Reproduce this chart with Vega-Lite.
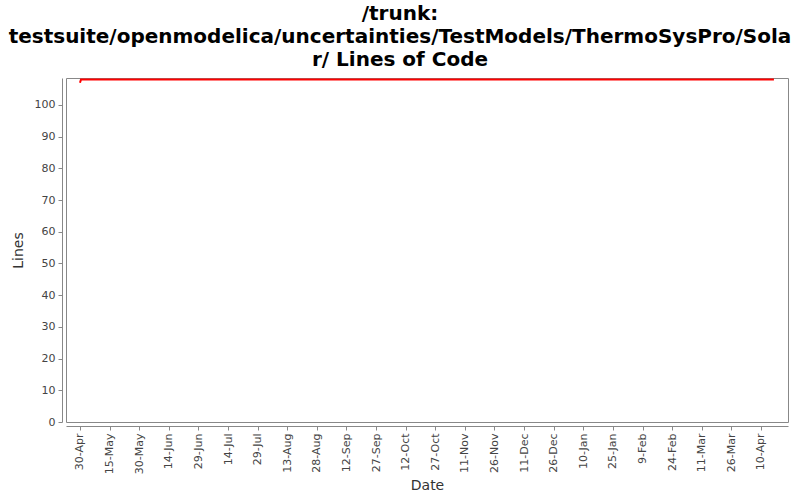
{
  "$schema": "https://vega.github.io/schema/vega-lite/v6.json",
  "autosize": "none",
  "width": 722,
  "height": 344,
  "padding": {"left": 66, "top": 78, "right": 12, "bottom": 78},
  "background": "white",
  "title": {
    "text": ["/trunk:", "testsuite/openmodelica/uncertainties/TestModels/ThermoSysPro/Sola", "r/ Lines of Code"],
    "font": "DejaVu Sans",
    "fontWeight": "bold",
    "fontSize": 20,
    "lineHeight": 23,
    "color": "#000000",
    "anchor": "middle",
    "dx": -27,
    "offset": 8
  },
  "config": {
    "view": {"stroke": "#888888", "strokeWidth": 1},
    "axis": {
      "grid": false,
      "labelFont": "DejaVu Sans",
      "labelFontSize": 11,
      "labelColor": "#444444",
      "titleFont": "DejaVu Sans",
      "titleFontSize": 14,
      "titleFontWeight": "normal",
      "titleColor": "#333333",
      "domainColor": "#888888",
      "tickColor": "#888888",
      "tickSize": 4,
      "offset": 4
    }
  },
  "data": {
    "values": [
      {"date": "2010-04-30T00:00:00Z", "lines": 107},
      {"date": "2010-04-30T12:00:00Z", "lines": 108},
      {"date": "2011-04-16T14:00:00Z", "lines": 108}
    ]
  },
  "mark": {"type": "line", "color": "#ff0000", "strokeWidth": 2, "clip": true},
  "encoding": {
    "x": {
      "field": "date",
      "type": "temporal",
      "title": "Date",
      "scale": {
        "type": "utc",
        "domain": [
          {"year": 2010, "month": 4, "date": 22, "hours": 22, "utc": true},
          {"year": 2011, "month": 4, "date": 23, "hours": 17, "utc": true}
        ]
      },
      "axis": {
        "values": [
          {"year": 2010, "month": 4, "date": 30, "utc": true},
          {"year": 2010, "month": 5, "date": 15, "utc": true},
          {"year": 2010, "month": 5, "date": 30, "utc": true},
          {"year": 2010, "month": 6, "date": 14, "utc": true},
          {"year": 2010, "month": 6, "date": 29, "utc": true},
          {"year": 2010, "month": 7, "date": 14, "utc": true},
          {"year": 2010, "month": 7, "date": 29, "utc": true},
          {"year": 2010, "month": 8, "date": 13, "utc": true},
          {"year": 2010, "month": 8, "date": 28, "utc": true},
          {"year": 2010, "month": 9, "date": 12, "utc": true},
          {"year": 2010, "month": 9, "date": 27, "utc": true},
          {"year": 2010, "month": 10, "date": 12, "utc": true},
          {"year": 2010, "month": 10, "date": 27, "utc": true},
          {"year": 2010, "month": 11, "date": 11, "utc": true},
          {"year": 2010, "month": 11, "date": 26, "utc": true},
          {"year": 2010, "month": 12, "date": 11, "utc": true},
          {"year": 2010, "month": 12, "date": 26, "utc": true},
          {"year": 2011, "month": 1, "date": 10, "utc": true},
          {"year": 2011, "month": 1, "date": 25, "utc": true},
          {"year": 2011, "month": 2, "date": 9, "utc": true},
          {"year": 2011, "month": 2, "date": 24, "utc": true},
          {"year": 2011, "month": 3, "date": 11, "utc": true},
          {"year": 2011, "month": 3, "date": 26, "utc": true},
          {"year": 2011, "month": 4, "date": 10, "utc": true}
        ],
        "labelExpr": "utcFormat(datum.value, '%-d-%b')",
        "labelAngle": 270,
        "labelPadding": 3,
        "titlePadding": 5
      }
    },
    "y": {
      "field": "lines",
      "type": "quantitative",
      "title": "Lines",
      "scale": {"domain": [0, 108.5], "nice": false, "zero": true},
      "axis": {"values": [0, 10, 20, 30, 40, 50, 60, 70, 80, 90, 100], "titlePadding": 9, "labelPadding": 3}
    }
  }
}
